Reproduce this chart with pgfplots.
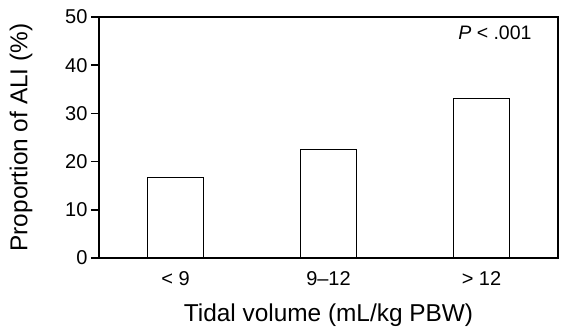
\documentclass[border=0pt]{standalone}
\usepackage{fontspec}
\setmainfont{Liberation Sans}
\usepackage{pgfplots}
\pgfplotsset{compat=1.18}
\begin{document}
\begin{tikzpicture}
\begin{axis}[
  scale only axis,
  width=459pt, height=241pt,
  xmin=-0.5, xmax=2.5,
  ymin=0, ymax=50,
  ytick={0,10,20,30,40,50},
  xtick={0,1,2},
  xticklabels={{< 9},{9--12},{> 12}},
  major x tick style={draw=none},
  ytick pos=left,
  tick align=outside,
  axis line style={draw=none},
  y tick style={black, line width=1.5pt},
  major tick length=8pt,
  /pgf/number format/assume math mode=true,
  yticklabel style={font=\fontsize{20}{23}\selectfont},
  xticklabel style={font=\fontsize{20}{23}\selectfont, anchor=center, yshift=-13pt},
  label style={font=\fontsize{24.4}{28}\selectfont},
  xlabel={Tidal volume (mL/kg PBW)},
  ylabel={Proportion of ALI (\%)},
  xlabel style={at={(axis description cs:0.5,-0.237)}, anchor=center},
  ylabel style={at={(axis description cs:-0.17,0.5)}, anchor=center},
  ybar, bar width=0.366,
  clip=false,
]
\addplot[draw=black, fill=white, line width=1pt] coordinates {(0,16.7) (1,22.5) (2,33.1)};
\draw[line width=2pt, black] (rel axis cs:0,0) rectangle (rel axis cs:1,1);
\node[anchor=east, font=\fontsize{19.5}{22}\selectfont] at (rel axis cs:0.95,0.934) {\textit{P} < .001};
\end{axis}
\pgfresetboundingbox
\path[use as bounding box] ([xshift=-99pt,yshift=-72pt]current axis.south west) rectangle ([xshift=3pt,yshift=17pt]current axis.north east);
\end{tikzpicture}
\end{document}
